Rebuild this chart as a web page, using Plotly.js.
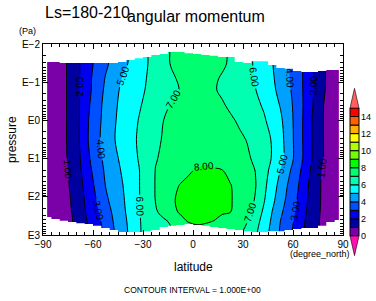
<!DOCTYPE html>
<html><head><meta charset="utf-8">
<script src="https://cdn.plot.ly/plotly-3.0.1.min.js"></script>
<style>html,body{margin:0;padding:0;background:#fff}#chart{width:376px;height:301px}</style>
</head><body><div id="chart"></div>
<script>
// ---------- data ----------
const latitudes = [-87.5,-82.5,-77.5,-72.5,-67.5,-62.5,-57.5,-52.5,-47.5,-42.5,-37.5,-32.5,-27.5,-22.5,-17.5,-12.5,-7.5,-2.5,
                   2.5,7.5,12.5,17.5,22.5,27.5,32.5,37.5,42.5,47.5,52.5,57.5,62.5,67.5,72.5,77.5,82.5,87.5];
// log10(pressure [Pa]) of each data row
const logPressure = [-1.8,-1.5,-1.1,-0.8,-0.4,0.0,0.5,1.0,1.3,1.7,2.1,2.4,2.65,2.95];
// angular momentum (rows follow logPressure, columns follow latitudes)
const momentum = [
 [0.2,0.5,0.83,1.36,2.06,2.69,3.28,3.83,4.29,4.71,5.13,5.54,5.96,6.38,6.79,7.08,7.25,7.42,7.58,7.45,7.28,7.12,6.9,6.57,6.23,5.88,5.46,5.04,4.55,4.05,3.44,2.77,1.98,1.23,0.65,0.2],
 [0.2,0.5,0.83,1.36,2.06,2.69,3.28,3.83,4.29,4.71,5.13,5.54,5.96,6.38,6.79,7.08,7.25,7.42,7.58,7.45,7.28,7.12,6.9,6.57,6.23,5.88,5.46,5.04,4.55,4.05,3.44,2.77,1.98,1.23,0.65,0.2],
 [0.2,0.5,0.83,1.36,2.07,2.79,3.44,4.05,4.55,5.03,5.37,5.7,6.03,6.32,6.62,6.91,7.11,7.26,7.39,7.24,7.1,6.93,6.69,6.45,6.21,5.96,5.54,5.13,4.61,4.06,3.44,2.77,1.98,1.23,0.65,0.2],
 [0.2,0.5,0.83,1.36,2.07,2.79,3.5,4.17,4.72,5.16,5.47,5.78,6.08,6.33,6.58,6.83,7.04,7.16,7.29,7.19,7.06,6.89,6.67,6.46,6.24,6.02,5.63,5.21,4.72,4.17,3.5,2.75,1.93,1.21,0.65,0.2],
 [0.2,0.5,0.83,1.36,2.08,2.92,3.64,4.28,4.83,5.23,5.57,5.9,6.22,6.53,6.84,7.07,7.21,7.35,7.49,7.37,7.22,7.07,6.88,6.65,6.42,6.19,5.9,5.43,4.94,4.31,3.58,2.75,1.92,1.08,0.62,0.2],
 [0.2,0.5,0.83,1.36,2.09,3.02,3.71,4.33,4.89,5.3,5.67,6.03,6.37,6.7,7.01,7.15,7.29,7.42,7.56,7.5,7.37,7.23,7.1,6.92,6.65,6.38,6.11,5.68,5.16,4.42,3.58,2.7,1.79,1.07,0.62,0.2],
 [0.2,0.5,0.83,1.36,2.1,3.07,3.79,4.39,4.94,5.35,5.73,6.11,6.46,6.82,7.08,7.23,7.38,7.53,7.68,7.68,7.54,7.4,7.26,7.13,6.97,6.63,6.3,5.94,5.31,4.5,3.58,2.7,1.79,1.07,0.62,0.2],
 [0.2,0.51,0.82,1.29,2.02,2.91,3.64,4.25,4.75,5.21,5.63,6.05,6.5,6.95,7.14,7.31,7.47,7.63,7.79,7.86,7.71,7.56,7.41,7.26,7.11,6.86,6.41,5.94,5.31,4.5,3.58,2.7,1.79,1.07,0.62,0.2],
 [0.2,0.5,0.79,1.21,1.93,2.75,3.5,4.14,4.62,5.09,5.52,5.96,6.5,7.02,7.25,7.48,7.7,7.93,8.05,8.11,8.07,8.01,7.77,7.51,7.26,6.98,6.38,5.71,4.98,4.17,3.38,2.5,1.64,0.96,0.58,0.2],
 [0.2,0.49,0.77,1.13,1.8,2.54,3.29,4.02,4.48,4.95,5.45,5.95,6.5,7.04,7.42,7.81,8.04,8.13,8.22,8.29,8.2,8.11,8.03,7.75,7.39,7.04,6.25,5.46,4.67,3.86,3.14,2.27,1.5,0.9,0.55,0.2],
 [0.2,0.48,0.75,1.06,1.69,2.36,3.07,3.79,4.35,4.85,5.39,5.94,6.47,7.02,7.48,7.95,8.09,8.18,8.28,8.32,8.23,8.14,8.05,7.79,7.38,6.92,6.08,5.25,4.42,3.67,2.98,2.17,1.47,0.9,0.55,0.2],
 [0.2,0.47,0.73,1.02,1.63,2.25,2.88,3.53,4.18,4.76,5.35,5.94,6.41,6.86,7.35,7.85,8.07,8.16,8.25,8.26,8.18,8.09,8.01,7.63,7.21,6.62,5.83,4.98,4.17,3.5,2.85,2.08,1.4,0.87,0.53,0.2],
 [0.2,0.46,0.72,0.97,1.53,2.12,2.71,3.36,4.06,4.65,5.27,5.93,6.25,6.53,6.81,7.19,7.81,8.04,8.09,8.05,7.98,7.74,7.5,7.26,7.02,6.36,5.62,4.83,3.98,3.38,2.69,1.94,1.31,0.84,0.52,0.2],
 [0.2,0.46,0.72,0.97,1.5,2.06,2.61,3.21,3.93,4.56,5.21,5.93,6.2,6.43,6.66,6.89,7.15,7.46,7.76,7.74,7.58,7.43,7.27,7.11,6.8,6.13,5.43,4.67,3.88,3.25,2.57,1.88,1.29,0.84,0.52,0.2]
];
// top and bottom of the valid data in each latitude column, log10(Pa)
const dataTopLogP = [-1.53,-1.53,-1.50,-1.50,-1.50,-1.50,-1.50,-1.50,-1.50,-1.53,-1.58,-1.63,-1.66,-1.71,-1.74,-1.79,-1.79,-1.76,
                     -1.74,-1.71,-1.69,-1.66,-1.66,-1.53,-1.50,-1.55,-1.55,-1.45,-1.37,-1.35,-1.29,-1.27,-1.27,-1.29,-1.32,-1.32];
const dataBottomLogP = [2.53,2.58,2.63,2.66,2.69,2.71,2.76,2.82,2.87,2.92,2.92,2.92,2.90,2.87,2.79,2.76,2.74,2.71,
                        2.74,2.76,2.79,2.82,2.84,2.87,2.90,2.92,2.92,2.90,2.90,2.87,2.84,2.82,2.82,2.76,2.66,2.61];
const latColumnWidth = 5;

// contour levels and colours
const levelStart = 0, levelEnd = 15, levelStep = 1;
const bandColors = ['#7a00a8','#0000a0','#0000f0','#0050ff','#00a0ff','#00ffff','#00ffb0','#00ff70',
                    '#00ff00','#70ff00','#b0ff00','#ffff00','#ffb000','#ff6000','#ff0000'];
const belowColor = '#ff10b0', aboveColor = '#ff6060';
const colorbarTicks = [0,2,4,6,8,10,12,14];

// axis ticks
const latTicks = [-90,-60,-30,0,30,60,90];
const pressureTicks = [-2,-1,0,1,2,3];
const pressureTickText = ['E\u22122','E\u22121','E0','E1','E2','E3'];

// ---------- build figure ----------
const FONT = 'Liberation Sans, Arial, sans-serif';
const nLevels = Math.floor((levelEnd - levelStart) / levelStep) + 1;
const colorscale = [[0, belowColor]];
bandColors.forEach((c, k) => colorscale.push([(k + 1) / nLevels, c]));
colorscale.push([1, aboveColor]);

const contour = {
  type: 'contour', x: latitudes, y: logPressure, z: momentum,
  autocontour: false,
  contours: {start: levelStart, end: levelEnd, size: levelStep, coloring: 'fill',
             showlines: true, showlabels: true, labelformat: '.2f',
             labelfont: {family: FONT, size: 10, color: '#000'}},
  line: {color: '#000', width: 1, smoothing: 1},
  colorscale: colorscale, showscale: false, hoverinfo: 'skip'
};

// white masks where there is no data
function maskPath(edge, outer) {
  const xs = [latitudes[0] - latColumnWidth / 2], ys = [outer];
  latitudes.forEach((lat, i) => {
    xs.push(lat - latColumnWidth / 2, lat + latColumnWidth / 2);
    ys.push(edge[i], edge[i]);
  });
  xs.push(latitudes[latitudes.length - 1] + latColumnWidth / 2);
  ys.push(outer);
  return {type: 'scatter', mode: 'lines', x: xs, y: ys, fill: 'toself', fillcolor: '#fff',
          line: {width: 0, color: '#fff'}, hoverinfo: 'skip'};
}
const topMask = maskPath(dataTopLogP, pressureTicks[0]);
const botMask = maskPath(dataBottomLogP, pressureTicks[pressureTicks.length - 1]);

// colour bar
const bandBases = bandColors.map((c, k) => levelStart + k * levelStep);
const cbar = {type: 'bar', x: bandBases.map(() => 0), y: bandBases.map(() => levelStep), base: bandBases,
  width: 1, marker: {color: bandColors, line: {color: '#000', width: 1}},
  xaxis: 'x2', yaxis: 'y2', hoverinfo: 'skip'};
const arrowLen = 2.3;
const upArrow = {type: 'scatter', mode: 'lines', x: [-0.5, 0, 0.5, -0.5],
  y: [levelEnd, levelEnd + arrowLen, levelEnd, levelEnd], fill: 'toself', fillcolor: aboveColor,
  line: {color: '#000', width: 0.6}, xaxis: 'x2', yaxis: 'y2', hoverinfo: 'skip'};
const downArrow = {type: 'scatter', mode: 'lines', x: [-0.5, 0, 0.5, -0.5],
  y: [levelStart, levelStart - arrowLen, levelStart, levelStart], fill: 'toself', fillcolor: belowColor,
  line: {color: '#000', width: 0.6}, xaxis: 'x2', yaxis: 'y2', hoverinfo: 'skip'};

const minorP = [];
for (let d = -2; d < 3; d++) for (let k = 2; k <= 9; k++) minorP.push(d + Math.log10(k));

const W = 376, H = 301, ML = 43, MR = 10, MT = 44, MB = 44;
const PW = W - ML - MR, PH = H - MT - MB;
const px = x => (x - ML) / PW;      // pixel -> paper
const py = y => (H - MB - y) / PH;

const axCommon = {showline: true, linecolor: '#000', linewidth: 1, mirror: 'ticks', ticks: 'inside',
  tickcolor: '#000', tickwidth: 1, showgrid: false, zeroline: false, fixedrange: true,
  tickfont: {family: FONT, size: 10, color: '#000'}};

function label(text, x, y, size, extra) {
  return Object.assign({text: text, xref: 'paper', yref: 'paper', x: px(x), y: py(y),
    xanchor: 'center', yanchor: 'middle', showarrow: false, font: {size: size}}, extra || {});
}

const layout = {
  width: W, height: H, margin: {l: ML, r: MR, t: MT, b: MB},
  paper_bgcolor: '#fff', plot_bgcolor: '#fff', showlegend: false,
  font: {family: FONT, color: '#000'},
  xaxis: Object.assign({}, axCommon, {domain: [0, px(343)], range: [-90, 90], tickmode: 'array',
    tickvals: latTicks, ticklen: 5,
    minor: {ticks: 'inside', ticklen: 3, dtick: 5, tick0: 0, tickcolor: '#000'}}),
  yaxis: Object.assign({}, axCommon, {domain: [py(235), 1], range: [3, -2], tickmode: 'array',
    tickvals: pressureTicks, ticktext: pressureTickText, ticklen: 5,
    minor: {tickmode: 'array', tickvals: minorP, ticks: 'inside', ticklen: 3, tickcolor: '#000'}}),
  xaxis2: {domain: [px(349.1), px(359.9)], range: [-0.6, 0.6], visible: false, anchor: 'y2', fixedrange: true},
  yaxis2: {domain: [0, py(86)], range: [-(H - MB - 236) / 8.533, 15 + (108 - 86) / 8.533], anchor: 'x2',
    side: 'right', tickmode: 'array', tickvals: colorbarTicks, ticks: '', showline: false, showgrid: false,
    zeroline: false, fixedrange: true, tickfont: {family: FONT, size: 9, color: '#000'}},
  annotations: [
    label('Ls=180-210', 43, 13, 16, {xanchor: 'left'}),
    label('angular momentum', 125, 17, 16, {xanchor: 'left'}),
    label('(Pa)', 27.5, 31.5, 9),
    label('pressure', 12, 140, 12, {textangle: -90}),
    label('latitude', 193, 267, 12),
    label('(degree_north)', 320, 254, 9),
    label('CONTOUR INTERVAL = 1.000E+00', 192, 290, 8.5)
  ]
};

Plotly.newPlot('chart', [contour, topMask, botMask, cbar, upArrow, downArrow], layout, {staticPlot: true});
</script></body></html>
